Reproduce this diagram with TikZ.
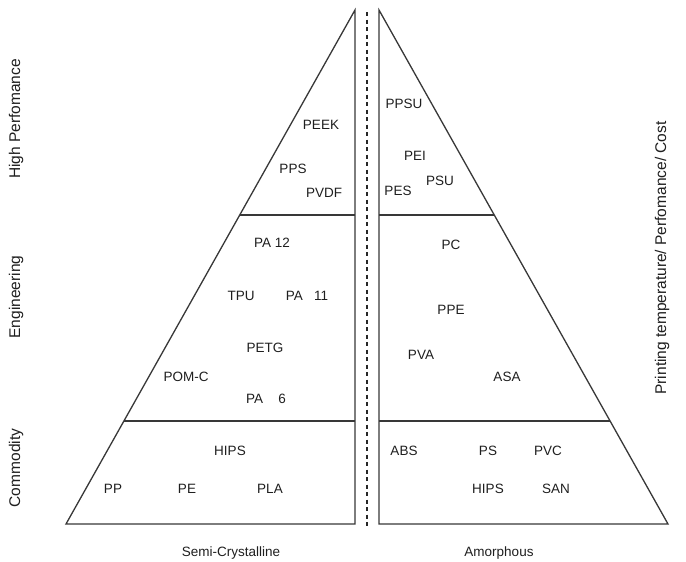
\documentclass[tikz,border=0pt]{standalone}
\usepackage{fontspec}
\setmainfont{Liberation Sans}
\begin{document}
\begin{tikzpicture}[x=1pt,y=-1pt,
  edge/.style={draw=black!78, line width=1.3pt, line join=miter},
  divider/.style={draw=black!78, line width=1.3pt},
  sep/.style={draw=black!85, line width=2.6pt, dash pattern=on 4pt off 3.5pt},
  lbl/.style={font=\fontsize{13.5}{16}\selectfont, text=black!88, inner sep=0pt},
  side/.style={lbl, font=\fontsize{15.5}{18}\selectfont, rotate=90}]
\useasboundingbox[fill=white] (0,0) rectangle (686,562);
% left triangle
\coordinate (LA) at (355,10);
\coordinate (LB) at (66,524);
\coordinate (LC) at (355,524);
\coordinate (L1a) at (239.7,215);
\coordinate (L1b) at (355,215);
\coordinate (L2a) at (123.9,421);
\coordinate (L2b) at (355,421);
% right triangle
\coordinate (RA) at (379,10);
\coordinate (RB) at (379,524);
\coordinate (RC) at (668,524);
\coordinate (R1a) at (379,215);
\coordinate (R1b) at (494.3,215);
\coordinate (R2a) at (379,421);
\coordinate (R2b) at (610.1,421);
% separator
\coordinate (S1) at (367,12);
\coordinate (S2) at (367,526);

\draw[edge] (LA) -- (LB) -- (LC) -- cycle;
\draw[edge] (RA) -- (RB) -- (RC) -- cycle;
\draw[divider] (L1a) -- (L1b);
\draw[divider] (L2a) -- (L2b);
\draw[divider] (R1a) -- (R1b);
\draw[divider] (R2a) -- (R2b);
\draw[sep] (S1) -- (S2);

% left materials
\node[lbl] (peek) at (321,125) {PEEK};
\node[lbl] (pps) at (293,169) {PPS};
\node[lbl] (pvdf) at (324,193) {PVDF};
\node[lbl] (pa12) at (272,243) {PA 12};
\node[lbl] (tpu) at (241,296) {TPU};
\node[lbl] (pa11) at (307,296) {PA\ \ \ 11};
\node[lbl] (petg) at (265,348) {PETG};
\node[lbl] (pomc) at (186,377) {POM-C};
\node[lbl] (pa6) at (266,399) {PA\ \ \ \ 6};
\node[lbl] (hipsl) at (230,451) {HIPS};
\node[lbl] (pp) at (113,489) {PP};
\node[lbl] (pe) at (187,489) {PE};
\node[lbl] (pla) at (270,489) {PLA};
% right materials
\node[lbl] (ppsu) at (404,104) {PPSU};
\node[lbl] (pei) at (415,156) {PEI};
\node[lbl] (psu) at (440,181) {PSU};
\node[lbl] (pes) at (398,191) {PES};
\node[lbl] (pc) at (451,245) {PC};
\node[lbl] (ppe) at (451,310) {PPE};
\node[lbl] (pva) at (421,355) {PVA};
\node[lbl] (asa) at (507,377) {ASA};
\node[lbl] (abs) at (404,451) {ABS};
\node[lbl] (ps) at (488,451) {PS};
\node[lbl] (pvc) at (548,451) {PVC};
\node[lbl] (hipsr) at (488,489) {HIPS};
\node[lbl] (san) at (556,489) {SAN};

% axis labels
\node[lbl] (semi) at (231,553) {Semi-Crystalline};
\node[lbl] (amor) at (499,553) {Amorphous};
\node[side] (hp) at (16,119) {High Perfomance};
\node[side] (eng) at (16,297) {Engineering};
\node[side] (com) at (16,468) {Commodity};
\node[side] (axis) at (662,258) {Printing temperature/ Perfomance/ Cost};
\end{tikzpicture}
\end{document}
